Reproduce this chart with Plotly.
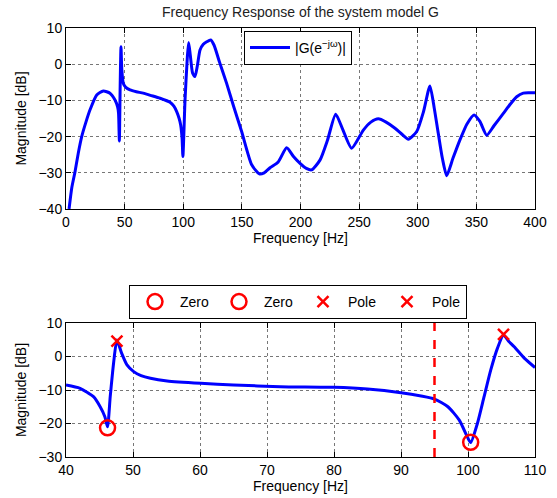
import plotly.graph_objects as go

# Top plot: frequency response |G(e^{-jw})|
freq_top = [2.6, 5, 7.7, 10.5, 13.4, 17, 20.5, 26.2, 31.8, 37.5, 41.8, 44.0, 44.8, 45.5,
            46.2, 46.9, 47.6, 48.9, 51, 54.6, 60, 65.9, 72, 80.2, 88.7, 92, 94.4, 96.5, 97.8, 99.0, 99.7,
            101.5, 103.5, 104.6, 106, 108, 110, 112, 114.3, 117.1, 120, 123.4, 126.2, 131, 137,
            143, 149.8, 158.4, 164.9, 169, 174, 181, 188.2, 194, 199.6, 205, 209.5, 216.6, 223,
            230, 236, 243.6, 253.6, 260, 266.4, 273, 280.6, 287, 292, 299.1, 305, 310.4,
            314, 317.5, 321, 324.7, 330, 336, 342, 348, 353, 358.8, 365, 373, 379, 384.4,
            390, 395, 400]
mag_top = [-40, -34, -29.7, -24.5, -20, -16, -12.6, -8.5, -7.4, -8, -9.9, -11.8, -13.5, -21.2,
           -6, 4.8, -1.5, -5.3, -6.4, -7.1, -7.6, -8, -8.6, -9.4, -10.5, -11.6, -13.1, -15, -16.8, -20.5, -25.5,
           -10, 2, 6, 2.5, -2.5, -3.4, -0.5, 3.9, 5.5, 6.2, 6.7, 5.3, 0.5, -5.3,
           -11.7, -18.6, -27.8, -30.3, -30, -28.6, -27, -23.1, -25.5, -27.4, -28.8, -29.2, -26.5, -21,
           -13.8, -18, -23.2, -18.2, -16, -15.1, -16, -17.7, -19.5, -20.7, -18.6, -13, -6,
           -12, -19.1, -26, -30.8, -26, -20.9, -16.5, -14, -15.8, -19.6, -17, -13.6, -11, -9,
           -8, -7.9, -7.9]

# Bottom plot: zoom 40-110 Hz
freq_bot = [40, 42.1, 44.1, 45.1, 45.8, 46.2, 46.6, 47.1, 47.6, 48.3, 49.1, 50.1, 51.2, 52.6,
            55.1, 60.1, 65, 72, 80, 85, 90, 93, 95, 97, 98.7, 99.9, 100.4, 101.4, 102.4, 103.4,
            104.4, 105.3, 106.1, 106.9, 108.4, 110]
mag_bot = [-8.5, -9.5, -12, -15, -18, -21, -12, -2, 4.9, 1, -2.5, -4.5, -5.7, -6.5,
           -7.3, -8, -8.5, -9, -9.2, -9.7, -10.8, -11.8, -12.7, -15, -19, -24, -25.7, -20, -12, -4,
           2.5, 6.4, 4.5, 2.9, -0.5, -3.3]

zero_freq = [46.2, 100.4]
zero_mag = [-21.3, -25.6]
pole_freq = [47.6, 105.3]
pole_mag = [4.6, 6.6]
cutoff_freq = 95

FONT = "Liberation Sans, Arial, Helvetica, sans-serif"
BLUE = "#0000FF"
RED = "#FF0000"

W, H = 557, 498
L, R, T, B = 66, 535, 28, 457
IW, IH = R - L, B - T


def px_x(px):
    return (px - L) / IW


def px_y(py):
    return 1 - (py - T) / IH


fig = go.Figure()

fig.add_trace(go.Scatter(x=freq_top, y=mag_top, mode="lines",
                         line=dict(color=BLUE, width=3, shape="spline", smoothing=0.6),
                         name="|G(e<sup>\u2212j\u03c9</sup>)|", xaxis="x", yaxis="y",
                         legend="legend"))

fig.add_trace(go.Scatter(x=freq_bot, y=mag_bot, mode="lines",
                         line=dict(color=BLUE, width=3, shape="spline", smoothing=0.6),
                         showlegend=False, xaxis="x2", yaxis="y2"))

fig.add_trace(go.Scatter(x=[cutoff_freq, cutoff_freq], y=[-30, 10], mode="lines",
                         line=dict(color=RED, width=2.5, dash="dash"),
                         showlegend=False, xaxis="x2", yaxis="y2"))

for f, m in zip(zero_freq, zero_mag):
    fig.add_trace(go.Scatter(x=[f], y=[m], mode="markers", name="Zero",
                             marker=dict(symbol="circle-open", size=15, color=RED,
                                         line=dict(width=2.5, color=RED)),
                             xaxis="x2", yaxis="y2", legend="legend2"))
for f, m in zip(pole_freq, pole_mag):
    fig.add_trace(go.Scatter(x=[f], y=[m], mode="markers", name="Pole",
                             marker=dict(symbol="x-thin-open", size=11, color=RED,
                                         line=dict(width=2.5, color=RED)),
                             xaxis="x2", yaxis="y2", legend="legend2"))

axis_common = dict(showline=True, linecolor="black", linewidth=1, mirror="ticks",
                   ticks="inside", ticklen=5, tickcolor="black", automargin=False,
                   showgrid=True, gridcolor="#777777", griddash="dot", gridwidth=1,
                   zeroline=False, tickfont=dict(family=FONT, size=14, color="black"))
title_font = dict(family=FONT, size=14, color="black")

fig.update_layout(
    width=W, height=H,
    margin=dict(l=L, r=W - R, t=T, b=H - B, autoexpand=False),
    paper_bgcolor="white", plot_bgcolor="white",
    font=dict(family=FONT, size=14, color="black"),
    title=dict(text="Frequency Response of the system model G", x=300.5 / W, xanchor="center",
               xref="container", y=1 - 12 / H, yanchor="middle", yref="container",
               font=dict(family=FONT, size=14, color="#222")),
    xaxis=dict(domain=[0, 1], range=[0, 400], dtick=50, anchor="y",
               title=dict(text="Frequency [Hz]", standoff=4, font=title_font), **axis_common),
    yaxis=dict(domain=[px_y(209), 1], range=[-40, 10], dtick=10, anchor="x",
               title=dict(text="Magnitude [dB]", standoff=8, font=title_font), **axis_common),
    xaxis2=dict(domain=[0, 1], range=[40, 110], dtick=10, anchor="y2",
                title=dict(text="Frequency [Hz]", standoff=2, font=title_font), **axis_common),
    yaxis2=dict(domain=[0, px_y(323)], range=[-30, 10], dtick=10, anchor="x2",
                title=dict(text="Magnitude [dB]", standoff=8, font=title_font), **axis_common),
    legend=dict(x=px_x(244), y=px_y(31), xanchor="left", yanchor="top",
                bordercolor="black", borderwidth=1, bgcolor="white", itemwidth=40,
                font=dict(family=FONT, size=14, color="black")),
    legend2=dict(orientation="h", x=px_x(129), y=px_y(285), xanchor="left", yanchor="top",
                 bordercolor="black", borderwidth=1, bgcolor="white",
                 itemwidth=40, entrywidth=29, entrywidthmode="pixels",
                 font=dict(family=FONT, size=14, color="black")),
)

fig.write_html("out.html", config={"displayModeBar": False},
               post_script="document.body.style.margin='0';")
